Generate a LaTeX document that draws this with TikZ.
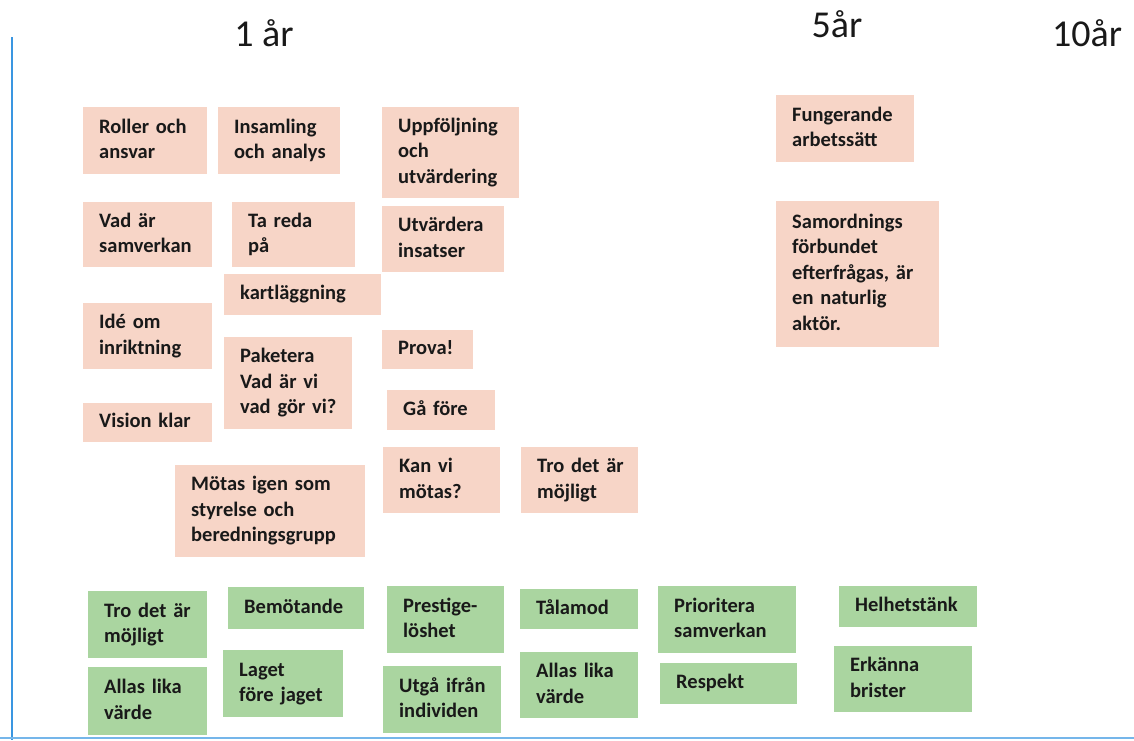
\documentclass[tikz,border=0pt]{standalone}
\usepackage{fontspec}
\setmainfont{Carlito}
\definecolor{notepink}{RGB}{247,213,199}
\definecolor{notegreen}{RGB}{170,213,160}
\definecolor{lineblue}{RGB}{58,150,225}
\definecolor{notetext}{RGB}{25,25,25}
\newcommand{\notefont}{\fontsize{20.5}{25.5}\selectfont\bfseries}
\newcommand{\yearfont}{\fontsize{38}{42}\selectfont}
% keep each written line of a note on one line
\newcommand{\notelines}[1]{\begin{tabular}{@{}l@{}}#1\end{tabular}}
\begin{document}
\begin{tikzpicture}[x=1pt,y=-1pt,
	note/.style={anchor=north west, inner xsep=16pt, inner ysep=0pt, align=left, font=\notefont, text=notetext},
	pinknote/.style={note, fill=notepink},
	greennote/.style={note, fill=notegreen},
	notesize/.style n args={3}{minimum width=#1pt, minimum height=#2pt, text width=#3pt},
	year/.style={anchor=base, font=\yearfont, text=notetext}]
	\useasboundingbox[fill=white] (0,0) rectangle (1134,740);
	% frame lines
	\draw[lineblue, line width=2pt] (12,37) -- (12,740);
	\draw[lineblue!70, line width=2.5pt] (0,738) -- (1134,738);
	% time axis
	\node[year] (ar1) at (264,46) {1 år};
	\node[year] (ar5) at (837,37) {5år};
	\node[year] (ar10) at (1087,46) {10år};
	% pink notes
	\node[pinknote, notesize={124}{67}{92}] (roller) at (83,107) {\notelines{Roller och\\ansvar}};
	\node[pinknote, notesize={122}{67}{90}] (insamling) at (218,107) {\notelines{Insamling\\och analys}};
	\node[pinknote, notesize={137}{91}{105}] (uppfoljning) at (382,107) {\notelines{Uppföljning\\och\\utvärdering}};
	\node[pinknote, notesize={129}{65}{97}] (vadar) at (83,202) {\notelines{Vad är\\samverkan}};
	\node[pinknote, notesize={123}{65}{91}] (tareda) at (232,202) {\notelines{Ta reda\\på}};
	\node[pinknote, notesize={122}{66}{90}] (utvardera) at (382,206) {\notelines{Utvärdera\\insatser}};
	\node[pinknote, notesize={157}{41}{125}] (kartlaggning) at (224,274) {\notelines{kartläggning}};
	\node[pinknote, notesize={129}{66}{97}] (ide) at (83,303) {\notelines{Idé om\\inriktning}};
	\node[pinknote, notesize={128}{92}{96}] (paketera) at (224,337) {\notelines{Paketera\\Vad är vi\\vad gör vi?}};
	\node[pinknote, notesize={129}{39}{97}] (vision) at (83,403) {\notelines{Vision klar}};
	\node[pinknote, notesize={91}{39}{59}] (prova) at (382,330) {\notelines{Prova!}};
	\node[pinknote, notesize={108}{40}{76}] (gafore) at (387,390) {\notelines{Gå före}};
	\node[pinknote, notesize={190}{92}{158}] (motas) at (175,465) {\notelines{Mötas igen som\\styrelse och\\beredningsgrupp}};
	\node[pinknote, notesize={117}{66}{85}] (kanvi) at (383,447) {\notelines{Kan vi\\mötas?}};
	\node[pinknote, notesize={117}{66}{85}] (trodet) at (521,447) {\notelines{Tro det är\\möjligt}};
	\node[pinknote, notesize={138}{67}{106}] (fungerande) at (776,95) {\notelines{Fungerande\\arbetssätt}};
	\node[pinknote, notesize={163}{146}{131}] (samordning) at (776,201) {\notelines{Samordnings\\förbundet\\efterfrågas, är\\en naturlig\\aktör.}};
	% green notes
	\node[greennote, notesize={119}{67}{87}] (gtro) at (88,591) {\notelines{Tro det är\\möjligt}};
	\node[greennote, notesize={136}{42}{104}] (bemotande) at (228,587) {\notelines{Bemötande}};
	\node[greennote, notesize={117}{67}{85}] (prestige) at (387,586) {\notelines{Prestige-\\löshet}};
	\node[greennote, notesize={118}{40}{86}] (talamod) at (520,589) {\notelines{Tålamod}};
	\node[greennote, notesize={138}{67}{106}] (prioritera) at (658,586) {\notelines{Prioritera\\samverkan}};
	\node[greennote, notesize={138}{41}{106}] (helhet) at (839,586) {\notelines{Helhetstänk}};
	\node[greennote, notesize={119}{68}{87}] (gallas) at (88,667) {\notelines{Allas lika\\värde}};
	\node[greennote, notesize={120}{67}{88}] (laget) at (223,650) {\notelines{Laget\\före jaget}};
	\node[greennote, notesize={118}{67}{86}] (utga) at (383,666) {\notelines{Utgå ifrån\\individen}};
	\node[greennote, notesize={118}{66}{86}] (gallastva) at (520,652) {\notelines{Allas lika\\värde}};
	\node[greennote, notesize={137}{41}{105}] (respekt) at (660,663) {\notelines{Respekt}};
	\node[greennote, notesize={138}{66}{106}] (erkanna) at (834,646) {\notelines{Erkänna\\brister}};
\end{tikzpicture}
\end{document}
